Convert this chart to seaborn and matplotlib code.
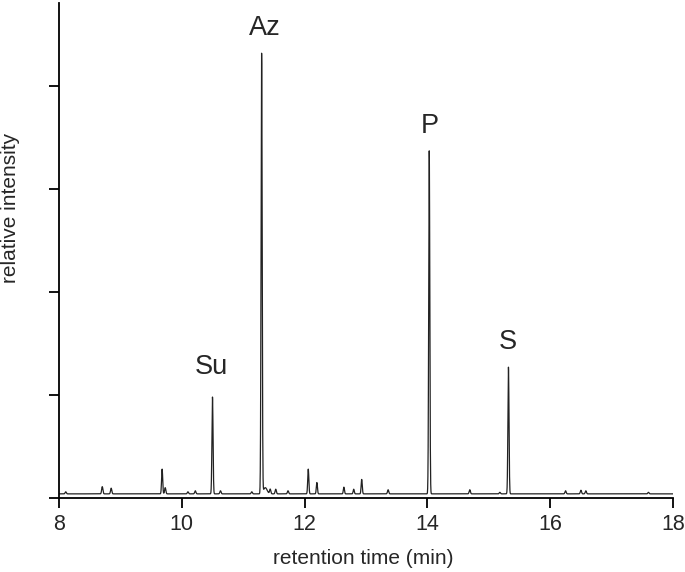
import matplotlib
matplotlib.use("Agg")
import matplotlib.pyplot as plt
import seaborn as sns
import numpy as np
import pandas as pd

# peak table: retention time (min), height above baseline, width (sigma, min)
peak_times = [8.11, 8.705, 8.85, 9.68, 9.73, 10.10, 10.22, 10.50, 10.63, 11.14,
              11.30, 11.36, 11.44, 11.53, 11.73, 12.06, 12.20, 12.64, 12.80, 12.93,
              13.36, 14.03, 14.69, 15.18, 15.32, 16.25, 16.50, 16.58, 17.60]
peak_heights = [0.02, 0.07, 0.055, 0.24, 0.06, 0.02, 0.03, 0.94, 0.03, 0.02,
                4.27, 0.06, 0.045, 0.045, 0.03, 0.24, 0.11, 0.065, 0.045, 0.14,
                0.04, 3.33, 0.04, 0.015, 1.23, 0.03, 0.035, 0.03, 0.015]
peak_widths = [0.01, 0.01, 0.01, 0.009, 0.01, 0.01, 0.01, 0.009, 0.01, 0.01,
               0.009, 0.03, 0.01, 0.01, 0.01, 0.009, 0.009, 0.009, 0.009, 0.009,
               0.01, 0.009, 0.01, 0.01, 0.009, 0.01, 0.01, 0.01, 0.01]
baseline = 0.04

# compound labels
label_names = ["Su", "Az", "P", "S"]
label_x = [10.48, 11.36, 14.04, 15.31]
label_y = [1.204, 4.495, 3.544, 1.447]

# build the trace from the peak table
t = np.arange(8.0, 18.0005, 0.002)
signal = np.full_like(t, baseline)
for mu, h, s in zip(peak_times, peak_heights, peak_widths):
    signal += h * np.exp(-0.5 * ((t - mu) / s) ** 2)
df = pd.DataFrame({"time": t, "intensity": signal})

sns.set_style("ticks")
plt.rcParams["font.family"] = ["Liberation Sans", "DejaVu Sans"]

fig = plt.figure(figsize=(6.85, 5.72), dpi=100)
ax = fig.add_axes([0.0861, 0.1294, 0.8964, 0.8654])
sns.lineplot(data=df, x="time", y="intensity", color="#222222", linewidth=0.9, ax=ax)

for name, x, y in zip(label_names, label_x, label_y):
    ax.text(x, y, name, fontsize=19.5, ha="center", va="baseline")

ax.set_xlim(8, 18)
ax.set_ylim(0, 4.806)
ax.set_xticks([8, 10, 12, 14, 16, 18])
ax.set_yticks([0, 1, 2, 3, 4])
ax.set_yticklabels([])
sns.despine(ax=ax)
for sp in ["left", "bottom"]:
    ax.spines[sp].set_linewidth(1.3)
    ax.spines[sp].set_color("black")
ax.tick_params(axis="both", length=7.5, width=1.3, color="black", labelsize=15.5, pad=4)

ax.set_xlabel("retention time (min)", fontsize=15)
ax.set_ylabel("relative intensity", fontsize=15)
ax.xaxis.set_label_coords(0.496, -0.103)
ax.yaxis.set_label_coords(-0.064, 0.586)

fig.savefig("out.png", dpi=100)
